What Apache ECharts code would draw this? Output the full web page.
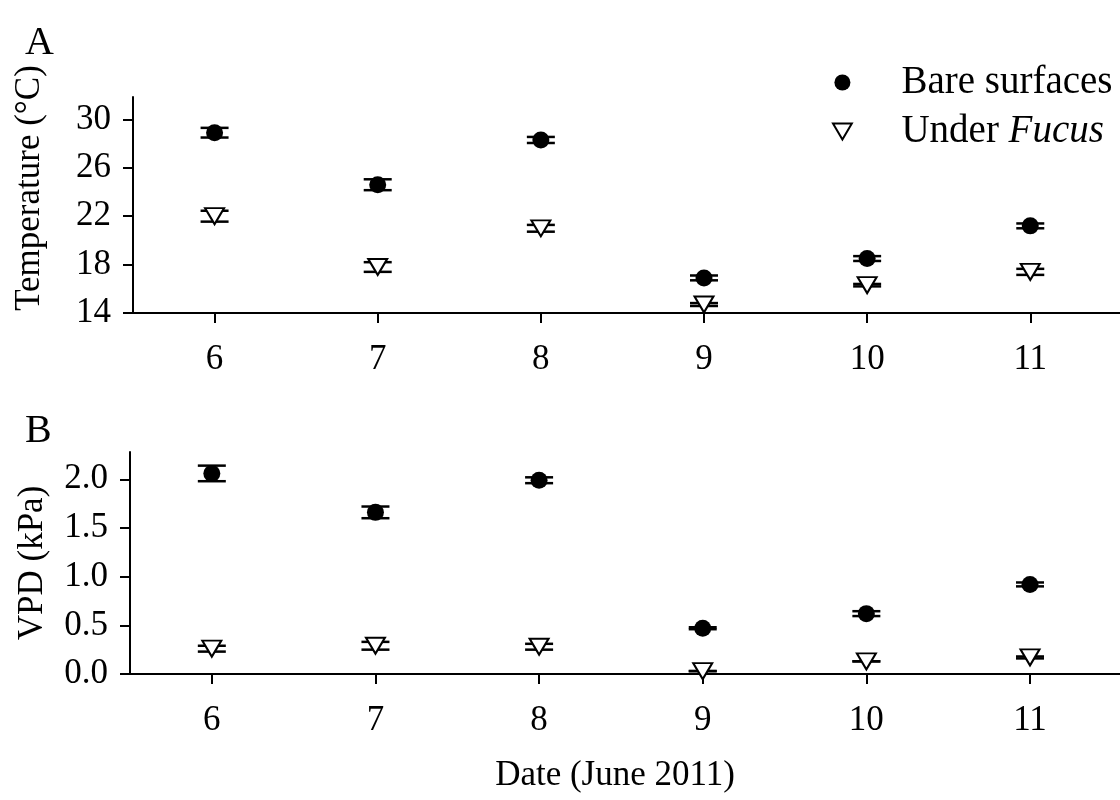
<!DOCTYPE html>
<html>
<head>
<meta charset="utf-8">
<title>Temperature and VPD, June 2011</title>
<script src="https://cdn.jsdelivr.net/npm/echarts@6/dist/echarts.min.js"></script>
<style>
  html, body { margin: 0; padding: 0; background: #fff; }
  #chart { width: 1120px; height: 800px; }
</style>
</head>
<body>
<div id="chart"></div>
<script>
// dates (June 2011)
const dates = [6, 7, 8, 9, 10, 11]

// A: temperature (°C), mean and SE
const tempBare = [28.9, 24.6, 28.3, 16.9, 18.5, 21.2]
const tempBareSE = [0.4, 0.45, 0.25, 0.2, 0.2, 0.2]
const tempUnder = [22.0, 17.8, 21.0, 14.7, 16.3, 17.4]
const tempUnderSE = [0.45, 0.4, 0.28, 0.12, 0.1, 0.25]

// B: VPD (kPa), mean and SE
const vpdBare = [2.06, 1.66, 1.99, 0.47, 0.62, 0.92]
const vpdBareSE = [0.08, 0.06, 0.03, 0.01, 0.025, 0.02]
const vpdUnder = [0.26, 0.29, 0.28, 0.03, 0.13, 0.17]
const vpdUnderSE = [0.03, 0.04, 0.03, 0, 0, 0.01]

// tick labels
const tempTicks = [14, 18, 22, 26, 30]
const vpdTicks = [0, 0.5, 1, 1.5, 2]

const FONT = 'Liberation Serif'
const FS = 35
const triangle = 'path://M0,0 L20,0 L10,17 Z'

const pairs = (ys) => dates.map((d, i) => [d, ys[i]])
const errPairs = (ys, es) => dates.map((d, i) => [d, ys[i], es[i]])

// 误差棒：只画上下两条横线（竖线被点盖住）
const renderErr = (params, api) => {
  const x = api.value(0)
  const y = api.value(1)
  const e = api.value(2)
  const hi = api.coord([x, y + e])
  const lo = api.coord([x, y - e])
  const w = 14
  const style = { stroke: '#000', lineWidth: 2.5 }
  return {
    type: 'group',
    children: [
      { type: 'line', shape: { x1: hi[0] - w, y1: hi[1], x2: hi[0] + w, y2: hi[1] }, style },
      { type: 'line', shape: { x1: lo[0] - w, y1: lo[1], x2: lo[0] + w, y2: lo[1] }, style }
    ]
  }
}

const axisLine = { lineStyle: { color: '#000', width: 2 } }
const axisTick = (vals) => ({ length: 10, lineStyle: { color: '#000', width: 2 }, customValues: vals })
const axisLabel = (vals, margin, fmt) => ({
  color: '#000', fontFamily: FONT, fontSize: FS, margin, customValues: vals, formatter: fmt
})

const xAxis = (gridIndex, extra) => Object.assign({
  type: 'value',
  gridIndex,
  min: 5.5,
  max: 11.55,
  axisLine,
  axisTick: axisTick(dates),
  axisLabel: axisLabel(dates, 29),
  splitLine: { show: false }
}, extra || {})

const bareStyle = { color: '#000', opacity: 1 }
const underStyle = { color: '#fff', borderColor: '#000', borderWidth: 2, opacity: 1 }

const scatter = (name, xi, ys, under) => ({
  name,
  type: 'scatter',
  xAxisIndex: xi,
  yAxisIndex: xi,
  symbol: under ? triangle : 'circle',
  symbolSize: under ? [19, 16] : 17,
  itemStyle: under ? underStyle : bareStyle,
  z: 3,
  data: pairs(ys)
})

const errSeries = (name, xi, ys, es) => ({
  name,
  type: 'custom',
  xAxisIndex: xi,
  yAxisIndex: xi,
  renderItem: renderErr,
  z: 2,
  data: errPairs(ys, es)
})

const panelTitle = { fontFamily: FONT, fontSize: 40, fontWeight: 'normal', color: '#000' }
const LEG_FS = 39

const option = {
  backgroundColor: '#fff',
  animation: false,
  textStyle: { fontFamily: FONT, color: '#000' },
  title: [
    { text: 'A', left: 20, top: 18, textStyle: panelTitle },
    { text: 'B', left: 20, top: 406, textStyle: panelTitle }
  ],
  legend: {
    orient: 'vertical',
    left: 827,
    top: 58,
    itemWidth: 108,
    itemHeight: 16,
    itemGap: 10,
    selectedMode: false,
    data: [
      { name: 'Bare surfaces', icon: 'circle', itemStyle: bareStyle },
      { name: 'Under Fucus', icon: triangle, itemStyle: underStyle }
    ],
    formatter: (name) => name === 'Under Fucus' ? 'Under {i|Fucus}' : name,
    textStyle: {
      fontFamily: FONT, fontSize: LEG_FS, color: '#000', lineHeight: 38,
      rich: { i: { fontFamily: FONT, fontSize: LEG_FS, fontStyle: 'italic', color: '#000' } }
    }
  },
  grid: [
    { left: 133, top: 97, width: 987, height: 216 },
    { left: 130, top: 452, width: 990, height: 222 }
  ],
  xAxis: [
    xAxis(0),
    xAxis(1, {
      name: 'Date (June 2011)',
      nameLocation: 'middle',
      nameGap: 84,
      nameTextStyle: { fontFamily: FONT, fontSize: FS, color: '#000', padding: [0, 20, 0, 0] }
    })
  ],
  yAxis: [
    {
      type: 'value',
      gridIndex: 0,
      min: 14,
      max: 31.85,
      axisLine,
      axisTick: axisTick(tempTicks),
      axisLabel: axisLabel(tempTicks, 22),
      splitLine: { show: false },
      name: 'Temperature (°C)',
      nameLocation: 'middle',
      nameGap: 86,
      nameTextStyle: { fontFamily: FONT, fontSize: FS, color: '#000', padding: [0, 0, 0, 34] }
    },
    {
      type: 'value',
      gridIndex: 1,
      min: 0,
      max: 2.28,
      axisLine,
      axisTick: axisTick(vpdTicks),
      axisLabel: axisLabel(vpdTicks, 22, (v) => v.toFixed(1)),
      splitLine: { show: false },
      name: 'VPD (kPa)',
      nameLocation: 'middle',
      nameGap: 80,
      nameTextStyle: { fontFamily: FONT, fontSize: FS, color: '#000' }
    }
  ],
  series: [
    scatter('Bare surfaces', 0, tempBare, false),
    scatter('Under Fucus', 0, tempUnder, true),
    errSeries('Bare surfaces', 0, tempBare, tempBareSE),
    errSeries('Under Fucus', 0, tempUnder, tempUnderSE),
    scatter('Bare surfaces', 1, vpdBare, false),
    scatter('Under Fucus', 1, vpdUnder, true),
    errSeries('Bare surfaces', 1, vpdBare, vpdBareSE),
    errSeries('Under Fucus', 1, vpdUnder, vpdUnderSE)
  ]
}

const chart = echarts.init(document.getElementById('chart'))
chart.setOption(option)
window.addEventListener('resize', () => chart.resize())
</script>
</body>
</html>
